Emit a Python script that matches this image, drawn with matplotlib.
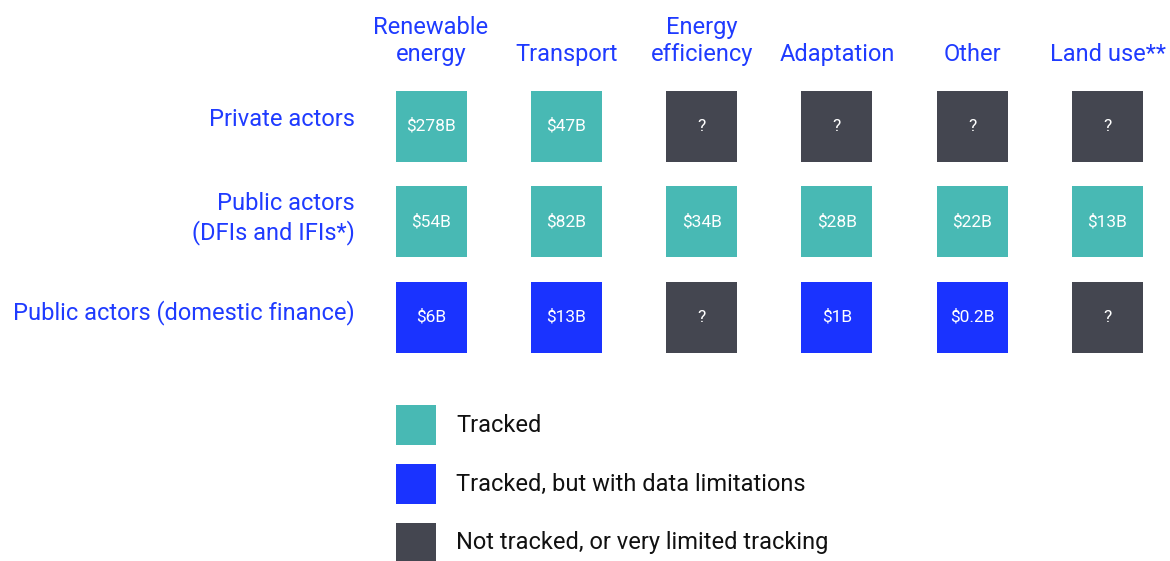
import matplotlib.pyplot as plt
from matplotlib.patches import Rectangle

plt.rcParams['font.family'] = ['Roboto', 'DejaVu Sans']

categories = ['Renewable\nenergy', 'Transport', 'Energy\nefficiency',
              'Adaptation', 'Other', 'Land use**']
actors = ['Private actors', 'Public actors\n(DFIs and IFIs*)',
          'Public actors (domestic finance)']

# value labels per actor row ('?' = not tracked)
private_vals = ['$278B', '$47B', '?', '?', '?', '?']
dfi_vals = ['$54B', '$82B', '$34B', '$28B', '$22B', '$13B']
domestic_vals = ['$6B', '$13B', '?', '$1B', '$0.2B', '?']

# status per cell: 0 tracked, 1 tracked w/ limitations, 2 not tracked
private_status = [0, 0, 2, 2, 2, 2]
dfi_status = [0, 0, 0, 0, 0, 0]
domestic_status = [1, 1, 2, 1, 1, 2]

legend_labels = ['Tracked', 'Tracked, but with data limitations',
                 'Not tracked, or very limited tracking']

colors = ['#48b9b4', '#1a33ff', '#444650']
text_blue = '#1f3bff'

fig = plt.figure(figsize=(11.7, 5.61), dpi=100)
ax = fig.add_axes([0, 0, 1, 1])
ax.set_xlim(0, 1170)
ax.set_ylim(561, 0)
ax.axis('off')

col_x0, col_dx = 431, 135.3
row_y0, row_dy = 126, 95.5
size = 71
label_offsets = [-7, -3, -4]

for i, cat in enumerate(categories):
    cx = col_x0 + i * col_dx
    ax.text(cx, 66, cat, ha='center', va='bottom', color=text_blue,
            fontsize=17, linespacing=1.25)

rows = [(private_vals, private_status), (dfi_vals, dfi_status),
        (domestic_vals, domestic_status)]
for r, (label, (vals, status)) in enumerate(zip(actors, rows)):
    cy = row_y0 + r * row_dy
    ax.text(355, cy + label_offsets[r], label, ha='right', va='center',
            color=text_blue, fontsize=17, linespacing=1.25)
    for i, (v, s) in enumerate(zip(vals, status)):
        cx = col_x0 + i * col_dx
        ax.add_patch(Rectangle((cx - size / 2, cy - size / 2), size, size,
                               facecolor=colors[s], edgecolor='none'))
        ax.text(cx, cy, v, ha='center', va='center', color='white',
                fontsize=12.5)

leg_y0, leg_dy, leg_size = 425, 59, 40
for k, lab in enumerate(legend_labels):
    cy = leg_y0 + k * leg_dy
    ax.add_patch(Rectangle((396, cy - leg_size / 2), leg_size, leg_size,
                           facecolor=colors[k], edgecolor='none'))
    ax.text(456, cy, lab, ha='left', va='center', color='#111111',
            fontsize=17)

fig.savefig('out.png', dpi=100)
